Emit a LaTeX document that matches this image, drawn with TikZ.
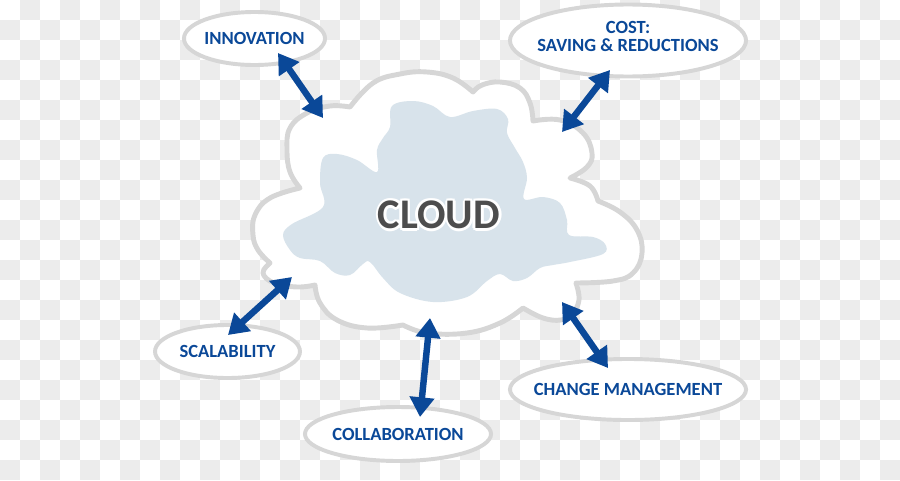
\documentclass[tikz,border=0pt]{standalone}
\usepackage{fontspec}
\setmainfont{Carlito}
\usetikzlibrary{shapes.geometric,arrows.meta}
\definecolor{navy}{RGB}{10,72,152}
\definecolor{rim}{RGB}{214,214,214}
\definecolor{skyfill}{RGB}{216,227,235}
\definecolor{chk}{RGB}{236,236,236}
\definecolor{ink}{RGB}{77,77,77}

\begin{document}
\begin{tikzpicture}[x=0.025cm,y=-0.025cm,
  topic/.style={ellipse,draw=rim,line width=2.8pt,fill=white,inner xsep=-12pt,inner ysep=0pt,
    text=navy,font=\fontsize{13.2}{13}\selectfont\bfseries,align=center},
  link/.style={draw=navy,line width=4.6pt,
    {Triangle[length=14pt,width=17pt]}-{Triangle[length=14pt,width=17pt]}},
  bigword/.style={font=\fontsize{30}{30}\selectfont\bfseries,inner sep=0pt}]
\useasboundingbox (0,0) rectangle (900,480);
% background squares
\foreach \i in {0,...,44}{
  \foreach \j in {0,...,23}{
    \ifodd\numexpr\i+\j\relax \fill[chk] (20*\i,20*\j) rectangle ++(20,20);\fi
  }
}
% outer cloud
\draw[rim,fill=white,line width=3.5pt,line join=round]
  plot[smooth,tension=0.7] coordinates {(350,107) (373,83) (400,74) (427,72) (453,78) (473,92)}
  -- plot[smooth,tension=0.7] coordinates {(473,92) (482,85) (500,82) (520,88) (530,103) (533,121)}
  -- plot[smooth,tension=0.7] coordinates {(533,121) (560,120) (583,133) (592,153) (587,167) (570,178)}
  -- plot[smooth,tension=0.7] coordinates {(570,178) (590,186) (598,201)}
  -- plot[smooth,tension=0.7] coordinates {(598,201) (620,212) (637,230) (642,253) (633,273) (613,281) (576,283)}
  -- plot[smooth,tension=0.7] coordinates {(576,283) (579,300) (572,314) (561,320) (543,318) (523,308)}
  -- plot[smooth,tension=0.7] coordinates {(523,308) (500,323) (467,333) (427,333) (403,325)}
  -- plot[smooth,tension=0.7] coordinates {(403,325) (367,328) (337,320) (320,303) (315,285)}
  -- plot[smooth,tension=0.7] coordinates {(315,285) (297,287) (274,283) (263,273) (270,263)}
  -- plot[smooth,tension=0.7] coordinates {(270,263) (258,250) (253,235) (255,215) (270,198) (300,188)}
  -- plot[smooth,tension=0.7] coordinates {(300,188) (290,172) (287,150) (290,128) (307,113) (330,106) (350,107)}
  -- cycle;
% inner cloud
\fill[skyfill] plot[smooth cycle,tension=0.6] coordinates {
  (392,106) (413,101) (433,106) (450,117) (473,111) (497,109) (508,119) (507,133)
  (515,148) (523,162) (527,178) (524,199) (543,197) (560,203) (567,220) (569,235)
  (593,237) (605,244) (603,254) (570,262) (553,265) (540,268) (527,278) (513,281)
  (500,274) (487,281) (467,297) (433,302) (400,293) (383,278) (370,262) (363,264)
  (350,275) (335,273) (320,261) (300,258) (290,250) (283,235) (292,224) (323,207)
  (320,183) (323,158) (337,154) (357,160) (377,172) (377,150) (383,138) (390,127)};
% label in the middle, white rim first
\foreach \a in {0,45,...,315}
  \node[bigword,white,xshift={1.8*cos(\a)},yshift={1.8*sin(\a)}] (halo\a) at (439,215) {CLOUD};
\node[bigword,text=ink] (cloud) at (439,215) {CLOUD};
% topics
\node[topic,minimum width=100.3pt,minimum height=37.7pt] (inno) at (254.5,38.5) {INNOVATION};
\node[topic,minimum width=167.9pt,minimum height=51.2pt] (cost) at (628,40.5) {COST:\\SAVING \& REDUCTIONS\rule[-6pt]{0pt}{6pt}};
\node[topic,minimum width=103.1pt,minimum height=37.7pt] (scal) at (227.5,351.5) {SCALABILITY};
\node[topic,minimum width=132.3pt,minimum height=38.4pt] (collab) at (398,434) {COLLABORATION};
\node[topic,minimum width=167.9pt,minimum height=43.4pt] (change) at (628,389.5) {CHANGE MANAGEMENT};
% arrow ends
\coordinate (inno-a) at (278,53);
\coordinate (inno-b) at (323,118);
\coordinate (cost-a) at (610,70);
\coordinate (cost-b) at (562,132);
\coordinate (scal-a) at (228,335);
\coordinate (scal-b) at (292,277);
\coordinate (collab-a) at (420,417);
\coordinate (collab-b) at (430,318);
\coordinate (change-a) at (608,368);
\coordinate (change-b) at (562,302);
\draw[link] (inno-a) -- (inno-b);
\draw[link] (cost-a) -- (cost-b);
\draw[link] (scal-a) -- (scal-b);
\draw[link] (collab-a) -- (collab-b);
\draw[link] (change-a) -- (change-b);
\end{tikzpicture}
\end{document}
